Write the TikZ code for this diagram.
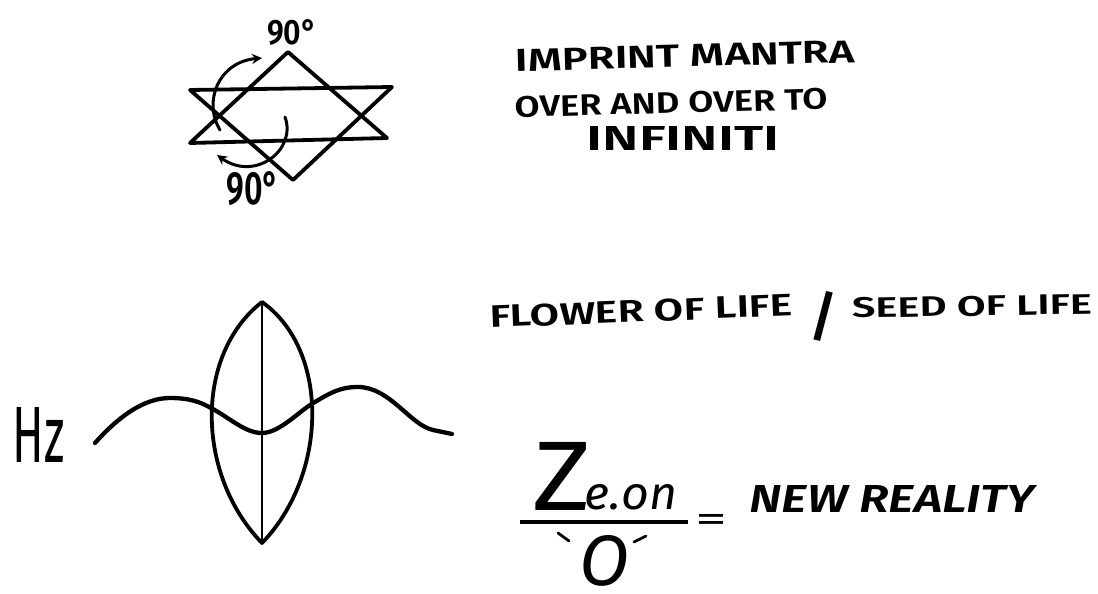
\documentclass[tikz,border=0pt]{standalone}
\usepackage{fontspec}
\setmainfont{Fira Sans}[BoldFont={Fira Sans SemiBold}, BoldItalicFont={Fira Sans SemiBold Italic}]
\usetikzlibrary{arrows.meta}
\newcommand{\fitto}[3]{\resizebox{#1}{#2}{#3}}
\tikzset{
  ink/.style={line width=3.8pt, line join=round, line cap=round},
  thinink/.style={line width=2.5pt, line cap=round},
  turn/.style={line width=3pt, line cap=round, -{Stealth[length=10pt,width=10pt]}},
  lbl/.style={inner sep=0pt, font=\bfseries},
}
\begin{document}
\begin{tikzpicture}[x=1pt,y=-1pt]
\useasboundingbox[fill=white] (0,0) rectangle (1098,594);
% hexagram
\draw[ink] (288,52) -- (190,143) -- (387,138) -- cycle;
\draw[ink] (190,90) -- (392,87) -- (293,180) -- cycle;
% rotation arrows
\coordinate (a1s) at (220,130);
\coordinate (a1e) at (262,58);
\coordinate (a2s) at (285,117);
\coordinate (a2e) at (217,155);
\draw[turn] (a1s) .. controls (203,102) and (218,62) .. (a1e);
\draw[turn] (a2s) .. controls (297,150) and (255,182) .. (a2e);
\node[lbl] (deg1) at (292,32) {\fitto{50pt}{25pt}{90°}};
\node[lbl] (deg2) at (253,189) {\fitto{53pt}{33pt}{90°}};
% mantra
\node[lbl, rotate=1.5] (imprint) at (685,56) {\fitto{340pt}{22pt}{IMPRINT MANTRA}};
\node[lbl, rotate=1.5] (over) at (671,103) {\fitto{313pt}{21pt}{OVER AND OVER TO}};
\node[lbl] (inf) at (683,138) {\fitto{193pt}{24pt}{INFINITI}};
% lens and wave
\coordinate (top) at (262,302);
\coordinate (bot) at (262,543);
\draw[ink] (top) .. controls (194,355) and (196,475) .. (bot)
  .. controls (328,475) and (330,350) .. (top);
\draw[thinink] (top) -- (bot);
\draw[ink, line width=4.3pt] (95,443) .. controls (120,415) and (145,398) .. (170,398)
  .. controls (190,398) and (200,402) .. (211,408)
  .. controls (230,418) and (245,433) .. (262,433)
  .. controls (280,433) and (300,410) .. (315,402)
  .. controls (330,393) and (340,387) .. (358,387)
  .. controls (390,387) and (410,425) .. (433,430) -- (452,434);
\node[lbl, font=\mdseries] (hz) at (39,435) {\fitto{52pt}{55pt}{Hz}};
% flower / seed
\node[lbl, rotate=2.3] (flower) at (641,311) {\fitto{303pt}{22pt}{FLOWER OF LIFE}};
\node[lbl] (slash) at (824,316) {\resizebox*{!}{50pt}{/}};
\node[lbl, rotate=1] (seed) at (972,306) {\fitto{240pt}{20pt}{SEED OF LIFE}};
% equation
\node[lbl, font=\mdseries] (z) at (562,476) {\fitto{59pt}{68pt}{Z}};
\node[lbl, font=\mdseries\itshape] (eon) at (631,497.5) {\fitto{92pt}{25pt}{e.on}};
\coordinate (fl) at (520,522);
\coordinate (fr) at (688,522);
\draw[line width=3.2pt] (fl) -- (fr);
\node[lbl, font=\mdseries, anchor=base] (eq) at (711,531) {\fitto{32pt}{17pt}{=}};
\node[lbl, font=\mdseries\itshape] (o) at (604,561) {\fitto{50pt}{50pt}{O}};
\coordinate (g1) at (558,533);
\coordinate (g2) at (569,541);
\coordinate (c1) at (634,542);
\coordinate (c2) at (646,536);
\draw[line width=2.8pt, line cap=round] (g1) -- (g2);
\draw[line width=2.8pt, line cap=round] (c1) -- (c2);
\node[lbl, font=\bfseries\itshape] (newr) at (892,499) {\fitto{285pt}{27pt}{NEW REALITY}};
\end{tikzpicture}
\end{document}
